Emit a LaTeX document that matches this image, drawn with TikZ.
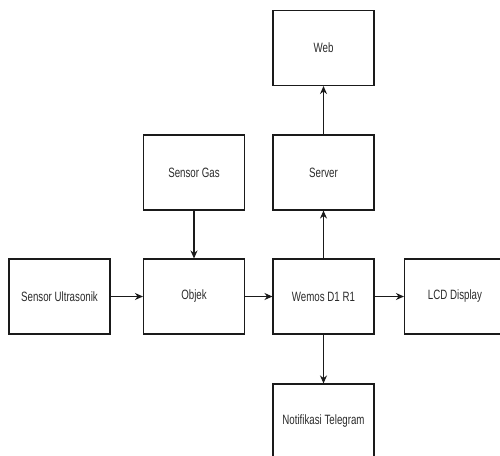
\documentclass[tikz,border=0pt]{standalone}
\usepackage{fontspec}
\setmainfont{Liberation Sans}[FakeStretch=0.72]
\usepackage{tikz}
\usetikzlibrary{positioning, arrows.meta}
\definecolor{cLine}{HTML}{1A1A1A}
\definecolor{cText}{HTML}{2B2B2B}

\begin{document}
\begin{tikzpicture}[x=1pt, y=-1pt,
    blok/.style={draw=cLine, line width=1.1pt, minimum width=101pt, minimum height=75pt,
                 inner sep=0pt, text=cText, font=\fontsize{13.5}{15}\selectfont},
    panah/.style={-{Stealth[length=8pt, width=7pt]}, draw=cLine, line width=1.1pt}]
  \useasboundingbox (0,0) rectangle (500,455);
  \clip (0,0) rectangle (500,455);

  % baris atas
  \node[blok] (web)    at (323.5, 48)    {Web};
  \node[blok] (server) at (323.5, 172.5) {Server};
  \node[blok] (gas)    at (194, 172.5)   {Sensor Gas};

  % baris tengah
  \node[blok] (ultra)  at (59.5, 296.5)  {Sensor Ultrasonik};
  \node[blok] (objek)  at (194, 296.5)   {Objek};
  \node[blok] (wemos)  at (323.5, 296.5) {Wemos D1 R1};
  \node[blok] (lcd)    at (455, 296.5)   {LCD Display};

  % bawah
  \node[blok] (notif)  at (323.5, 421.5) {Notifikasi Telegram};

  \draw[panah] (ultra.east)  -- (objek.west);
  \draw[panah] (gas.south)   -- (objek.north);
  \draw[panah] (objek.east)  -- (wemos.west);
  \draw[panah] (wemos.east)  -- (lcd.west);
  \draw[panah] (wemos.north) -- (server.south);
  \draw[panah] (server.north) -- (web.south);
  \draw[panah] (wemos.south) -- (notif.north);
\end{tikzpicture}
\end{document}
